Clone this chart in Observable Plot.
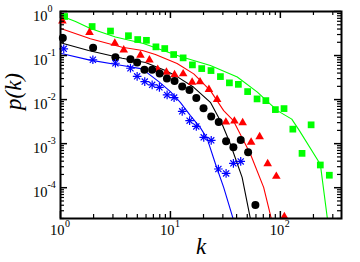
<!DOCTYPE html>
<html>
<head>
<meta charset="utf-8">
<script src="https://cdn.jsdelivr.net/npm/d3@7"></script>
<script src="https://cdn.jsdelivr.net/npm/@observablehq/plot@0.6"></script>
<style>
  html, body { margin: 0; padding: 0; background: #fff; }
  svg { display: block; }
</style>
</head>
<body>
<div id="chart"></div>
<script>
// ---- data ----
const greenK = [1.09, 1.94, 2.85, 4.15, 5.04, 6.05, 7.38, 8.88, 10.7, 13.05, 15.85, 19.26, 23.4, 28.5, 34.4, 41.5, 50.4, 61.4, 73.8, 90.1, 108, 129.9, 157.5, 190.5, 231, 279];
const greenP = [0.770, 0.456, 0.360, 0.282, 0.231, 0.2216, 0.1576, 0.1442, 0.1054, 0.0886, 0.0614, 0.0506, 0.0456, 0.0333, 0.0240, 0.0222, 0.0152, 0.01037, 0.00949, 0.00593, 0.00625, 0.002135, 0.000602, 0.002675, 0.000328, 0.000192];
const greenLineK = [1.02, 1.37, 1.87, 3.16, 5.68, 12.3, 23.1, 40.6, 61.8, 93.9, 127, 149, 231, 268];
const greenLineP = [0.790, 0.592, 0.411, 0.263, 0.1874, 0.0949, 0.0593, 0.0325, 0.0148, 0.00562, 0.0036, 0.001975, 0.000342, 0.0000197];

const redK = [1.04, 1.835, 3.12, 3.76, 5.34, 6.44, 7.66, 9.2, 10.9, 13.05, 15.75, 18.6, 22.4, 26.6, 31.95, 38.2, 45.4, 54.2, 64.8, 76.7, 91.9, 108.7];
const redP = [0.608, 0.333, 0.1904, 0.1334, 0.1016, 0.079, 0.0481, 0.0417, 0.0366, 0.0384, 0.0247, 0.02525, 0.01688, 0.0101, 0.00308, 0.003246, 0.003, 0.00108, 0.001442, 0.000351, 0.000181, 0.0000219];
const redLineK = [1.02, 1.87, 3.64, 5.57, 7.3, 11.5, 16.3, 23.1, 30.5, 37.4, 53.4, 70.5, 82.8];
const redLineP = [0.4045, 0.2396, 0.1544, 0.13, 0.1054, 0.0658, 0.0384, 0.016, 0.00562, 0.00333, 0.000583, 0.0001016, 0.0000197];

const blackK = [1.05, 1.98, 3.16, 4.33, 4.98, 5.8, 6.82, 7.98, 9.29, 10.9, 12.8, 14.9, 17.2, 20.0, 23.5, 27.5, 32.1, 37.4, 43.6, 50.9, 59.3];
const blackP = [0.25, 0.1504, 0.0915, 0.0824, 0.0693, 0.0476, 0.0476, 0.039, 0.03, 0.02634, 0.01974, 0.01644, 0.01093, 0.00634, 0.00411, 0.00311, 0.00114, 0.000824, 0.001214, 0.000641, 0.0000405];
const blackLineK = [1.02, 1.80, 3.64, 5.93, 9.0, 11.5, 16.3, 23.1, 29.5, 35.1, 44.9, 53.4];
const blackLineP = [0.1923, 0.13, 0.0868, 0.0693, 0.0456, 0.0333, 0.019, 0.00868, 0.0028, 0.000984, 0.0001714, 0.0000197];

const blueK = [1.07, 1.97, 3.16, 4.33, 4.98, 5.84, 6.82, 7.94, 9.33, 10.8, 12.8, 14.95, 17.2, 20.1, 23.5, 27.3, 32.1, 37.4, 43.6];
const blueP = [0.142, 0.0803, 0.0668, 0.0515, 0.0338, 0.02565, 0.0216, 0.019, 0.0128, 0.0111, 0.00542, 0.00333, 0.00246, 0.00139, 0.00119, 0.000266, 0.000211, 0.000357, 0.000396];
const blueLineK = [1.02, 1.81, 3.64, 5.53, 7.83, 10, 12.3, 15.2, 18.7, 21.6, 25.7, 30.5, 37.2];
const blueLineP = [0.111, 0.0799, 0.0593, 0.0498, 0.02565, 0.0152, 0.00868, 0.00433, 0.00231, 0.0013, 0.000346, 0.0001016, 0.0000197];

const xDomain = [1, 360];
const yDomain = [2e-5, 1];
const xDecades = [1, 10, 100];
const xExponents = ["0", "1", "2"];
const yDecades = [1, 0.1, 0.01, 0.001, 0.0001];
const yExponents = ["0", "-1", "-2", "-3", "-4"];
const xMinor = [2, 3, 4, 5, 6, 7, 8, 9, 20, 30, 40, 50, 60, 70, 80, 90, 200, 300];
const yMinor = [];
for (const d of [1e-5, 1e-4, 1e-3, 1e-2, 1e-1]) for (let m = 2; m <= 9; m++) { const v = m * d; if (v >= yDomain[0]) yMinor.push(v); }
const xLabel = "k";
const yLabel = "p(k)";

// ---- build tables ----
const zip = (ks, ps) => ks.map((k, i) => ({k, p: ps[i]}));
const green = zip(greenK, greenP), red = zip(redK, redP), black = zip(blackK, blackP), blue = zip(blueK, blueP);
const greenLine = zip(greenLineK, greenLineP), redLine = zip(redLineK, redLineP), blackLine = zip(blackLineK, blackLineP), blueLine = zip(blueLineK, blueLineP);

const W = 360, H = 262, mL = 60, mR = 19, mT = 11, mB = 44;
const innerW = W - mL - mR, innerH = H - mT - mB;
const majorLen = 7, minorLen = 4;
const GREEN = "#00ff00", RED = "#ff0000", BLACK = "#000000", BLUE = "#0000ff";
const font = "Liberation Serif, Times New Roman, serif";

const chart = Plot.plot({
  width: W, height: H,
  marginLeft: mL, marginRight: mR, marginTop: mT, marginBottom: mB,
  style: {background: "#fff", fontFamily: font, color: "#000"},
  x: {type: "log", domain: xDomain, axis: null},
  y: {type: "log", domain: yDomain, axis: null},
  marks: [
    // lines
    Plot.line(greenLine, {x: "k", y: "p", stroke: GREEN, strokeWidth: 1.1, clip: true}),
    Plot.line(redLine, {x: "k", y: "p", stroke: RED, strokeWidth: 1.1, clip: true}),
    Plot.line(blackLine, {x: "k", y: "p", stroke: BLACK, strokeWidth: 1.1, clip: true}),
    Plot.line(blueLine, {x: "k", y: "p", stroke: BLUE, strokeWidth: 1.1, clip: true}),
    // markers
    Plot.dot(green, {x: "k", y: "p", symbol: "square", r: 3.8, fill: GREEN, stroke: "none"}),
    Plot.dot(red, {x: "k", y: "p", symbol: "triangle", r: 3.2, fill: RED, stroke: "none"}),
    Plot.dot(black, {x: "k", y: "p", symbol: "circle", r: 4, fill: BLACK, stroke: "none"}),
    Plot.dot(blue, {x: "k", y: "p", symbol: "plus", r: 2.9, stroke: BLUE, strokeWidth: 1.2}),
    Plot.dot(blue, {x: "k", y: "p", symbol: "times", r: 2.9, stroke: BLUE, strokeWidth: 1.2}),
    // inward ticks, bottom and top
    Plot.tickX(xDecades, {x: d => d, insetTop: innerH - majorLen, stroke: BLACK, strokeWidth: 1.5}),
    Plot.tickX(xMinor, {x: d => d, insetTop: innerH - minorLen, stroke: BLACK, strokeWidth: 1.2}),
    Plot.tickX(xDecades, {x: d => d, insetBottom: innerH - majorLen, stroke: BLACK, strokeWidth: 1.5}),
    Plot.tickX(xMinor, {x: d => d, insetBottom: innerH - minorLen, stroke: BLACK, strokeWidth: 1.2}),
    // inward ticks, left and right
    Plot.tickY(yDecades, {y: d => d, insetRight: innerW - majorLen, stroke: BLACK, strokeWidth: 1.5}),
    Plot.tickY(yMinor, {y: d => d, insetRight: innerW - minorLen, stroke: BLACK, strokeWidth: 1.2}),
    Plot.tickY(yDecades, {y: d => d, insetLeft: innerW - majorLen, stroke: BLACK, strokeWidth: 1.5}),
    Plot.tickY(yMinor, {y: d => d, insetLeft: innerW - minorLen, stroke: BLACK, strokeWidth: 1.2}),
    Plot.frame({stroke: BLACK, strokeWidth: 2}),
    // x tick labels
    Plot.text(xDecades, {x: d => d, frameAnchor: "bottom", text: () => "10", textAnchor: "end", dx: 4, dy: 16, fontSize: 14.5, fill: BLACK}),
    Plot.text(xDecades, {x: d => d, frameAnchor: "bottom", text: (d, i) => xExponents[i], textAnchor: "start", dx: 4.5, dy: 8, fontSize: 10, fill: BLACK}),
    // y tick labels
    Plot.text(yDecades, {y: d => d, frameAnchor: "left", text: () => "10", textAnchor: "end", dx: -13, dy: 4.5, fontSize: 14.5, fill: BLACK}),
    Plot.text(yDecades, {y: d => d, frameAnchor: "left", text: (d, i) => yExponents[i], textAnchor: "start", dx: -13, dy: -2.5, fontSize: 10, fill: BLACK}),
    // axis titles
    Plot.text([yLabel], {frameAnchor: "left", text: d => d, rotate: -90, dx: -47, dy: -5, fontSize: 23, fontStyle: "italic", fill: BLACK}),
    Plot.text([xLabel], {frameAnchor: "bottom", text: d => d, dy: 35, fontSize: 23, fontStyle: "italic", fill: BLACK})
  ]
});
document.getElementById("chart").appendChild(chart);
</script>
</body>
</html>
